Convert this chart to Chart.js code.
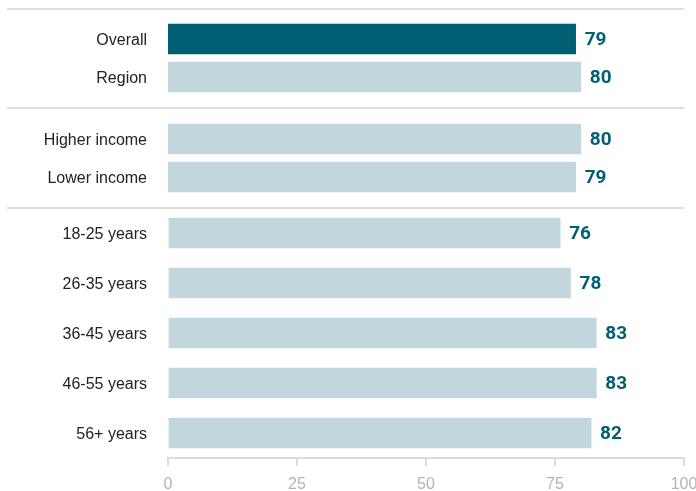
<!DOCTYPE html>
<html>
<head>
    <title>Survey score by group</title>
    <script src="https://cdn.jsdelivr.net/npm/chart.js"></script>
    <style>
        body { margin: 0; background: #fff; }
        .wrap { position: relative; width: 696px; height: 491px; overflow: hidden; }
        .wrap canvas { position: absolute; left: 0; }
        .sep { position: absolute; left: 7px; width: 677px; height: 2px; background: #dedede; }
    </style>
</head>
<body>
    <div class="wrap">
        <div class="sep" style="top:8px"></div>
        <canvas id="chartTop" width="696" height="76" style="top:20px"></canvas>
        <div class="sep" style="top:107px"></div>
        <canvas id="chartIncome" width="696" height="76" style="top:120px"></canvas>
        <div class="sep" style="top:207px"></div>
        <canvas id="chartAge" width="696" height="283" style="top:208px"></canvas>
    </div>

    <script>
        // data
        const topLabels = ['Overall', 'Region'];
        const topValues = [79, 80];
        const incomeLabels = ['Higher income', 'Lower income'];
        const incomeValues = [80, 79];
        const ageLabels = ['18-25 years', '26-35 years', '36-45 years', '46-55 years', '56+ years'];
        const ageValues = [76, 78, 83, 83, 82];
        const xTicks = [0, 25, 50, 75, 100];

        const DARK = '#005f73';
        const LIGHT = '#c1d6dd';

        // number at the end of each bar
        const valueLabels = {
            id: 'valueLabels',
            afterDatasetsDraw(chart) {
                const ctx = chart.ctx;
                const meta = chart.getDatasetMeta(0);
                const data = chart.data.datasets[0].data;
                ctx.save();
                ctx.font = 'bold 19px Roboto, "Liberation Sans", Arial, sans-serif';
                ctx.fillStyle = DARK;
                ctx.textAlign = 'left';
                ctx.textBaseline = 'middle';
                meta.data.forEach((bar, i) => {
                    ctx.fillText(data[i], bar.x + 9, bar.y + 1);
                });
                ctx.restore();
            }
        };

        function makeChart(id, labels, values, colors, showAxis) {
            const ctx = document.getElementById(id).getContext('2d');
            return new Chart(ctx, {
                type: 'bar',
                data: {
                    labels: labels,
                    datasets: [{
                        data: values,
                        backgroundColor: colors,
                        borderWidth: 0,
                        barThickness: 30
                    }]
                },
                options: {
                    indexAxis: 'y',
                    responsive: false,
                    animation: false,
                    layout: { padding: { left: 0, right: 12, top: 0, bottom: 0 } },
                    plugins: {
                        legend: { display: false },
                        tooltip: { enabled: false }
                    },
                    scales: {
                        x: {
                            display: showAxis,
                            min: 0,
                            max: 100,
                            afterBuildTicks: axis => { axis.ticks = xTicks.map(v => ({ value: v })); },
                            afterFit: axis => {
                                if (showAxis) axis.height = 33;
                                axis.paddingLeft = 0;
                                axis.paddingRight = 0;
                            },
                            border: { display: true, color: '#dcdcdc', width: 2 },
                            grid: {
                                drawOnChartArea: false,
                                drawTicks: true,
                                tickLength: 8,
                                color: '#dcdcdc',
                                lineWidth: 2
                            },
                            ticks: {
                                padding: 9,
                                color: '#b3b3b3',
                                font: { family: '"Liberation Sans", Arial, sans-serif', size: 16 }
                            }
                        },
                        y: {
                            afterFit: axis => {
                                axis.width = 168;
                                axis.paddingTop = 0;
                                axis.paddingBottom = 0;
                            },
                            border: { display: false },
                            grid: { display: false },
                            ticks: {
                                padding: 13,
                                labelOffset: 2,
                                color: '#222',
                                font: { family: '"Liberation Sans", Arial, sans-serif', size: 16 }
                            }
                        }
                    }
                },
                plugins: [valueLabels]
            });
        }

        document.addEventListener('DOMContentLoaded', function () {
            makeChart('chartTop', topLabels, topValues, [DARK, LIGHT], false);
            makeChart('chartIncome', incomeLabels, incomeValues, incomeLabels.map(() => LIGHT), false);
            makeChart('chartAge', ageLabels, ageValues, ageLabels.map(() => LIGHT), true);
        });
    </script>
</body>
</html>
